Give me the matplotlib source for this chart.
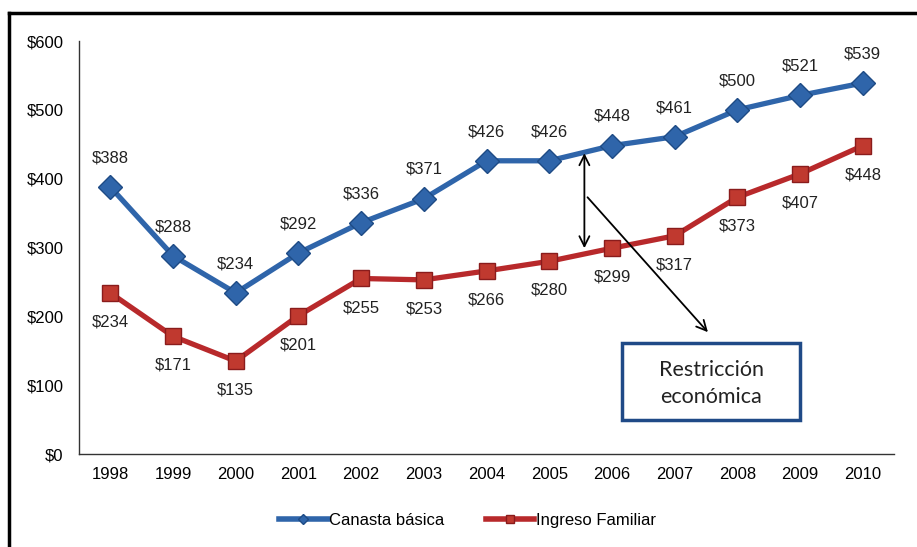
import matplotlib.pyplot as plt
from matplotlib.patches import Rectangle
from matplotlib.lines import Line2D

years = ['1998', '1999', '2000', '2001', '2002', '2003', '2004',
         '2005', '2006', '2007', '2008', '2009', '2010']
canasta = [388, 288, 234, 292, 336, 371, 426, 426, 448, 461, 500, 521, 539]
ingreso = [234, 171, 135, 201, 255, 253, 266, 280, 299, 317, 373, 407, 448]
yticks = [0, 100, 200, 300, 400, 500, 600]

blue = '#2F65AA'
blue_edge = '#1E4B85'
red = '#B8292B'
red_edge = '#8A1C1C'

plt.rcParams['font.family'] = ['Liberation Sans', 'DejaVu Sans']

fig = plt.figure(figsize=(9.17, 5.47), dpi=100)
ax = fig.add_axes([0.0861, 0.170, 0.889, 0.755])

x = list(range(len(years)))
ax.plot(x, canasta, color=blue, linewidth=3.8, marker='D', markersize=12,
        markerfacecolor=blue, markeredgecolor=blue_edge, markeredgewidth=1,
        label='Canasta básica', zorder=3)
ax.plot(x, ingreso, color=red, linewidth=3.8, marker='s', markersize=12,
        markerfacecolor='#C0392F', markeredgecolor=red_edge, markeredgewidth=1,
        label='Ingreso Familiar', zorder=3)

for i, v in enumerate(canasta):
    ax.annotate(f'${v}', (i, v), xytext=(0, 21), textcoords='offset points',
                ha='center', va='center', fontsize=12, color='#222222')
for i, v in enumerate(ingreso):
    ax.annotate(f'${v}', (i, v), xytext=(0, -21), textcoords='offset points',
                ha='center', va='center', fontsize=12, color='#222222')

ax.set_xlim(-0.5, len(years) - 0.5)
ax.set_ylim(0, 600)
ax.set_xticks(x)
ax.set_xticklabels(years, fontsize=12)
ax.set_yticks(yticks)
ax.set_yticklabels([f'${t}' for t in yticks], fontsize=12)
ax.tick_params(axis='both', length=0)
ax.tick_params(axis='y', pad=11)
ax.tick_params(axis='x', pad=9)
for s in ['top', 'right']:
    ax.spines[s].set_visible(False)
for s in ['left', 'bottom']:
    ax.spines[s].set_color('#333333')
    ax.spines[s].set_linewidth(1)

# arrows showing the gap
ax.annotate('', xy=(7.56, 437), xytext=(7.56, 299),
            arrowprops=dict(arrowstyle='<->', color='black', lw=1.3,
                            mutation_scale=18, shrinkA=0, shrinkB=0))
ax.annotate('', xy=(9.53, 177), xytext=(7.61, 373),
            arrowprops=dict(arrowstyle='->', color='black', lw=1.3,
                            mutation_scale=18, shrinkA=0, shrinkB=0))

# annotation box
ax.add_patch(Rectangle((8.16, 49), 2.84, 112, facecolor='white',
                       edgecolor='#1F4A87', linewidth=2.5, zorder=4))
ax.text(9.58, 102, 'Restricción\neconómica', ha='center', va='center',
        fontsize=15.5, family=['Lato', 'DejaVu Sans'], color='#222222',
        linespacing=1.45, zorder=5)

handles = [
    Line2D([], [], color=blue, linewidth=4, marker='D', markersize=5,
           markerfacecolor=blue, markeredgecolor=blue_edge),
    Line2D([], [], color=red, linewidth=4, marker='s', markersize=6,
           markerfacecolor='#C0392F', markeredgecolor=red_edge),
]
fig.legend(handles, ['Canasta básica', 'Ingreso Familiar'], loc='center',
           bbox_to_anchor=(0.51, 0.048), ncol=2, frameon=False, fontsize=12,
           handlelength=2.9, handletextpad=0.1, columnspacing=2.5)

# outer frame (left and top edges)
fig.add_artist(Line2D([0.0098, 0.0098], [0, 0.976], color='black',
                      linewidth=2.5, transform=fig.transFigure))
fig.add_artist(Line2D([0.0098, 1.0], [0.976, 0.976], color='black',
                      linewidth=2.5, transform=fig.transFigure))

fig.savefig('out.png', dpi=100)
